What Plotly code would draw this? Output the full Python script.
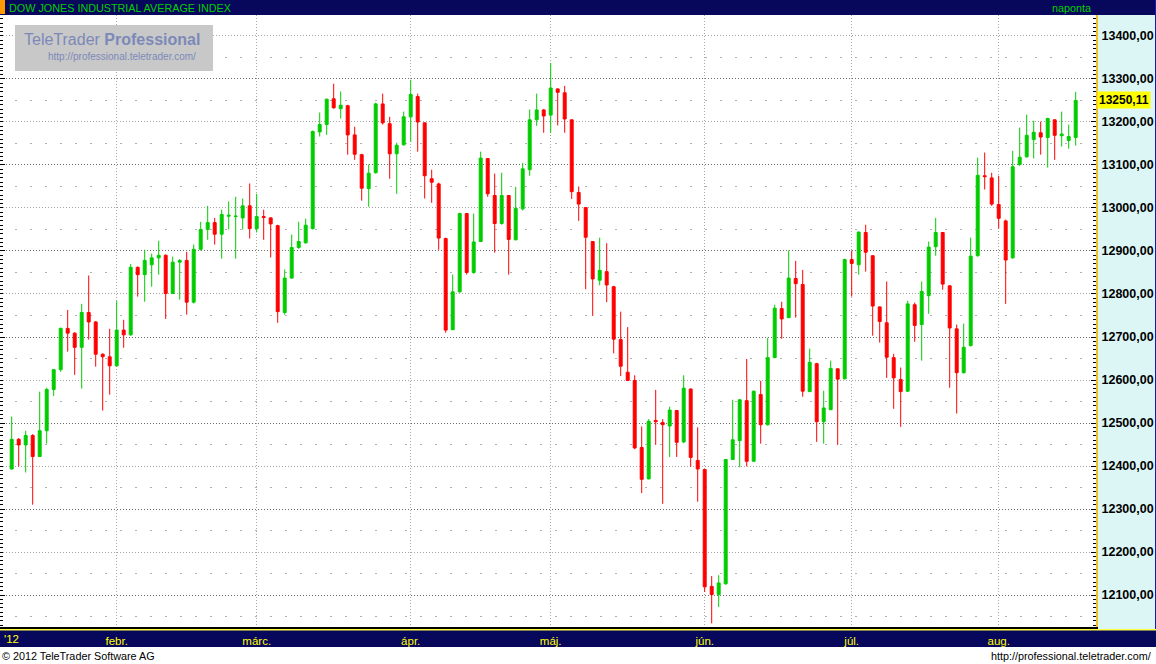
import plotly.graph_objects as go

# ---------------- data ----------------
trading_days = {
    1: [10, 11, 12, 13, 17, 18, 19, 20, 23, 24, 25, 26, 27, 30, 31],
    2: [1, 2, 3, 6, 7, 8, 9, 10, 13, 14, 15, 16, 17, 21, 22, 23, 24, 27, 28, 29],
    3: [1, 2, 5, 6, 7, 8, 9, 12, 13, 14, 15, 16, 19, 20, 21, 22, 23, 26, 27, 28, 29, 30],
    4: [2, 3, 4, 5, 9, 10, 11, 12, 13, 16, 17, 18, 19, 20, 23, 24, 25, 26, 27, 30],
    5: [1, 2, 3, 4, 7, 8, 9, 10, 11, 14, 15, 16, 17, 18, 21, 22, 23, 24, 25, 29, 30, 31],
    6: [1, 4, 5, 6, 7, 8, 11, 12, 13, 14, 15, 18, 19, 20, 21, 22, 25, 26, 27, 28, 29],
    7: [2, 3, 5, 6, 9, 10, 11, 12, 13, 16, 17, 18, 19, 20, 23, 24, 25, 26, 27, 30, 31],
    8: [1, 2, 3, 6, 7, 8, 9, 10, 13, 14, 15, 16],
}
dates = [f"2012-{m:02d}-{d:02d}" for m, days in trading_days.items() for d in days]

open_ = [12393, 12462, 12449, 12471, 12422, 12482, 12578, 12624, 12720, 12709,
         12676, 12757, 12735, 12660, 12654, 12633, 12716, 12705, 12862, 12845,
         12868, 12884, 12890, 12801, 12874, 12878, 12781, 12904, 12950, 12966,
         12939, 12981, 12980, 12977, 13005, 12952, 12980, 12977, 12959, 12757,
         12837, 12908, 12919, 12952, 13177, 13194, 13254, 13231, 13238, 13170,
         13124, 13045, 13082, 13242, 13196, 13126, 13147, 13212, 13259, 13198,
         13068, 13056, 12929, 12717, 12805, 12987, 12850, 12922, 13115, 13029,
         12964, 13029, 12926, 12998, 13089, 13205, 13228, 13216, 13277, 13268,
         13205, 13036, 13001, 12922, 12832, 12852, 12817, 12694, 12618, 12599,
         12443, 12370, 12506, 12501, 12493, 12529, 12456, 12579, 12413, 12392,
         12120, 12101, 12126, 12415, 12459, 12552, 12411, 12566, 12496, 12652,
         12766, 12745, 12836, 12822, 12573, 12638, 12503, 12531, 12626, 12603,
         12880, 12868, 12943, 12889, 12770, 12733, 12652, 12601, 12574, 12775,
         12729, 12796, 12910, 12943, 12819, 12719, 12617, 12680, 12889, 13075,
         13070, 13008, 12970, 12884, 13101, 13119, 13159, 13175, 13164, 13205,
         13168, 13157, 13164]

high = [12515, 12465, 12482, 12474, 12573, 12582, 12626, 12722, 12763, 12711,
        12777, 12843, 12737, 12662, 12719, 12784, 12740, 12870, 12864, 12903,
        12894, 12924, 12892, 12887, 12881, 12898, 12915, 12968, 13005, 12977,
        12996, 13015, 13026, 13022, 13057, 13033, 12996, 12979, 12961, 12857,
        12938, 12968, 12975, 13180, 13222, 13254, 13289, 13271, 13240, 13189,
        13126, 13101, 13245, 13266, 13212, 13152, 13224, 13298, 13266, 13199,
        13089, 13059, 12931, 12845, 12989, 12988, 12987, 13131, 13116, 13080,
        13082, 13030, 13049, 13105, 13229, 13266, 13230, 13337, 13278, 13284,
        13206, 13050, 13002, 12923, 12931, 12918, 12819, 12759, 12723, 12611,
        12492, 12509, 12577, 12509, 12538, 12530, 12611, 12580, 12490, 12393,
        12144, 12146, 12416, 12554, 12555, 12649, 12575, 12598, 12698, 12775,
        12782, 12901, 12877, 12856, 12673, 12640, 12575, 12645, 12627, 12882,
        12901, 12945, 12961, 12890, 12771, 12829, 12661, 12629, 12784, 12780,
        12829, 12922, 12977, 12944, 12820, 12729, 12731, 12931, 13117, 13129,
        13082, 13075, 12973, 13133, 13187, 13217, 13203, 13201, 13210, 13206,
        13224, 13194, 13270]

low = [12392, 12399, 12385, 12310, 12421, 12452, 12563, 12619, 12666, 12612,
       12580, 12694, 12631, 12529, 12566, 12631, 12675, 12703, 12794, 12782,
       12817, 12845, 12742, 12800, 12787, 12752, 12778, 12901, 12926, 12915,
       12882, 12950, 12882, 12950, 12929, 12943, 12926, 12885, 12733, 12752,
       12836, 12905, 12917, 12950, 13166, 13170, 13231, 13208, 13124, 13112,
       13017, 13003, 13080, 13194, 13068, 13033, 13145, 13154, 13131, 13022,
       13012, 12903, 12710, 12716, 12803, 12845, 12847, 12921, 13026, 12896,
       12961, 12845, 12925, 12994, 13075, 13191, 13175, 13175, 13192, 13175,
       13021, 12970, 12811, 12749, 12820, 12781, 12662, 12609, 12598, 12439,
       12337, 12369, 12449, 12312, 12421, 12421, 12453, 12398, 12317, 12107,
       12034, 12072, 12124, 12414, 12397, 12399, 12410, 12452, 12494, 12651,
       12696, 12744, 12745, 12561, 12572, 12456, 12452, 12530, 12449, 12601,
       12794, 12845, 12852, 12703, 12687, 12605, 12533, 12491, 12572, 12689,
       12645, 12754, 12889, 12810, 12582, 12522, 12615, 12678, 12887, 13043,
       13005, 12952, 12777, 12882, 13098, 13117, 13115, 13124, 13094, 13112,
       13143, 13138, 13145]

close = [12462, 12449, 12471, 12422, 12482, 12578, 12624, 12720, 12709, 12676,
         12757, 12735, 12660, 12654, 12633, 12716, 12705, 12862, 12845, 12878,
         12884, 12890, 12801, 12874, 12878, 12781, 12904, 12950, 12966, 12939,
         12985, 12983, 12981, 13005, 12952, 12980, 12978, 12963, 12759, 12837,
         12908, 12922, 12960, 13178, 13194, 13253, 13233, 13239, 13170, 13125,
         13046, 13081, 13242, 13198, 13126, 13146, 13212, 13264, 13200, 13075,
         13060, 12930, 12716, 12805, 12987, 12850, 12921, 13116, 13033, 12964,
         13029, 12927, 12999, 13091, 13205, 13228, 13214, 13279, 13269, 13207,
         13038, 13009, 12932, 12835, 12855, 12821, 12695, 12632, 12599, 12442,
         12369, 12504, 12503, 12496, 12530, 12455, 12581, 12420, 12393, 12119,
         12101, 12128, 12415, 12461, 12554, 12411, 12574, 12496, 12652, 12767,
         12742, 12837, 12824, 12574, 12641, 12503, 12535, 12627, 12602, 12880,
         12871, 12944, 12897, 12772, 12736, 12653, 12605, 12573, 12777, 12727,
         12806, 12909, 12943, 12823, 12721, 12617, 12676, 12888, 13076, 13073,
         13009, 12976, 12879, 13096, 13118, 13169, 13176, 13165, 13208, 13169,
         13172, 13166, 13250.11]

month_labels = {2: "febr.", 3: "márc.", 4: "ápr.", 5: "máj.", 6: "jún.", 7: "júl.", 8: "aug."}
year_label = "'12"
title_text = "DOW JONES INDUSTRIAL AVERAGE INDEX"
period_text = "naponta"

# month gridlines / ticks at the first trading day of each month
tick_dates = [f"2012-{m:02d}-{trading_days[m][0]:02d}" for m in month_labels]
tick_text = list(month_labels.values())

# ---------------- geometry helpers (pixel -> paper) ----------------
W, H = 1156, 664
ML, MR, MT, MB = 0, 60, 15, 37
PW, PH = W - ML - MR, H - MT - MB
PB = H - MB  # plot bottom pixel


def px(x):
    return (x - ML) / PW


def py(y):
    return (PB - y) / PH


Y_RANGE = [12025.6, 13448.8]
X_RANGE = [-1.671, 154.9]
NAVY = "#07075c"
FONT = "Liberation Sans"

fig = go.Figure()
fig.add_trace(go.Candlestick(
    x=dates, open=open_, high=high, low=low, close=close,
    increasing=dict(line=dict(color="#00cc00", width=1), fillcolor="#00cc00"),
    decreasing=dict(line=dict(color="#ff0000", width=1), fillcolor="#ff0000"),
    whiskerwidth=0, showlegend=False, hoverinfo="skip",
))
fig.add_trace(go.Scatter(x=[], y=[], yaxis="y2", showlegend=False, hoverinfo="skip"))
fig.add_trace(go.Scatter(x=[], y=[], yaxis="y3", showlegend=False, hoverinfo="skip"))

shapes = [
    # header bar
    dict(type="rect", xref="paper", yref="paper", x0=px(0), x1=px(W), y0=py(15), y1=py(0),
         fillcolor=NAVY, line=dict(width=0), layer="below"),
    dict(type="rect", xref="paper", yref="paper", x0=px(0), x1=px(5), y0=py(14), y1=py(0),
         fillcolor="#ff9900", line=dict(width=0), layer="below"),
    # right value-axis panel
    dict(type="rect", xref="paper", yref="paper", x0=px(1096), x1=px(W), y0=py(629), y1=py(15),
         fillcolor="#dcf6f6", line=dict(width=0), layer="below"),
    dict(type="line", xref="paper", yref="paper", x0=px(1155.5), x1=px(1155.5), y0=py(647), y1=py(0),
         line=dict(color="#1a1ab0", width=1), layer="below"),
    # bottom time-axis bar
    dict(type="rect", xref="paper", yref="paper", x0=px(0), x1=px(W), y0=py(647), y1=py(630),
         fillcolor=NAVY, line=dict(width=0), layer="below"),
    dict(type="line", xref="paper", yref="paper", x0=px(0), x1=px(W), y0=py(629.8), y1=py(629.8),
         line=dict(color="#ffff40", width=1.5), layer="below"),
    # watermark box
    dict(type="rect", xref="paper", yref="paper", x0=px(15), x1=px(213), y0=py(71), y1=py(25),
         fillcolor="#c8c8c8", line=dict(width=0), layer="above"),
]

last_label = f"{close[-1]:.2f}".replace(".", ",")

annotations = [
    dict(text=title_text, xref="paper", yref="paper", x=px(7), y=py(7.5), xanchor="left",
         yanchor="middle", showarrow=False, font=dict(family=FONT, size=10.8, color="#00d000")),
    dict(text=period_text, xref="paper", yref="paper", x=px(1093), y=py(7.5), xanchor="right",
         yanchor="middle", showarrow=False, font=dict(family=FONT, size=10.8, color="#00d000")),
    dict(text=year_label, xref="paper", yref="paper", x=px(2), y=py(638.5), xanchor="left",
         yanchor="middle", showarrow=False, font=dict(family=FONT, size=11.5, color="#ffff00")),
    dict(text="TeleTrader <b>Professional</b>", xref="paper", yref="paper", x=px(112), y=py(40),
         xanchor="center", yanchor="middle", showarrow=False,
         font=dict(family=FONT, size=16, color="#7c89b8")),
    dict(text="http://professional.teletrader.com/", xref="paper", yref="paper", x=px(122), y=py(57),
         xanchor="center", yanchor="middle", showarrow=False,
         font=dict(family=FONT, size=10, color="#7c89b8")),
    dict(text="© 2012 TeleTrader Software AG", xref="paper", yref="paper", x=px(0), y=py(655.5),
         xanchor="left", yanchor="middle", showarrow=False,
         font=dict(family=FONT, size=10.8, color="black")),
    dict(text="http://professional.teletrader.com/", xref="paper", yref="paper", x=px(1153),
         y=py(655.5), xanchor="right", yanchor="middle", showarrow=False,
         font=dict(family=FONT, size=10.8, color="black")),
    dict(text=f"<b>{last_label}</b>", xref="paper", yref="y", x=px(1097), y=close[-1],
         xanchor="left", yanchor="middle", showarrow=False, bgcolor="#ffff00", borderpad=1,
         font=dict(family=FONT, size=12, color="black")),
]

fig.update_layout(
    width=W, height=H, autosize=False,
    margin=dict(l=ML, r=MR, t=MT, b=MB, pad=0),
    paper_bgcolor="white", plot_bgcolor="white",
    separators=", ",
    boxgap=0.4,
    showlegend=False,
    font=dict(family=FONT),
    shapes=shapes,
    annotations=annotations,
    xaxis=dict(
        type="category", range=X_RANGE, tickvals=tick_dates, ticktext=tick_text,
        showgrid=True, gridcolor="#a8a8a8", griddash="1px,2px", gridwidth=1,
        ticks="", showline=True, linecolor="black", linewidth=2, zeroline=False,
        tickfont=dict(family=FONT, size=11.5, color="#ffff00"),
        rangeslider=dict(visible=False), fixedrange=True, ticklabelstandoff=2,
    ),
    yaxis=dict(
        side="right", range=Y_RANGE, tick0=0, dtick=100, tickformat=".2f",
        ticks="inside", ticklen=5, tickcolor="black", tickwidth=1,
        showgrid=True, gridcolor="#a4a4a4", griddash="1px,2px", gridwidth=1,
        showline=True, linecolor="#f0c020", linewidth=2, zeroline=False,
        tickfont=dict(family=FONT, size=12.5, color="black", weight="bold"),
        minor=dict(dtick=10, ticks="inside", ticklen=3, tickcolor="black", showgrid=False),
        fixedrange=True, ticklabelstandoff=1,
    ),
    yaxis2=dict(
        overlaying="y", side="left", anchor="x", range=Y_RANGE, tick0=12100, dtick=200,
        showticklabels=False, ticks="inside", ticklen=5, tickcolor="black",
        showgrid=True, gridcolor="#6c6c6c", griddash="1px,2px", gridwidth=1,
        minor=dict(dtick=10, ticks="inside", ticklen=3, tickcolor="black", showgrid=False),
        showline=False, zeroline=False, fixedrange=True,
    ),
    yaxis3=dict(
        overlaying="y", side="right", anchor="x", range=Y_RANGE, tick0=12050, dtick=100,
        showticklabels=False, ticks="", showgrid=True, gridcolor="#b0b0b0",
        griddash="2px,13px", gridwidth=1, showline=False, zeroline=False, fixedrange=True,
    ),
)

fig.write_html("out.html", config={"displayModeBar": False, "staticPlot": True},
               post_script="document.body.style.margin='0';")
